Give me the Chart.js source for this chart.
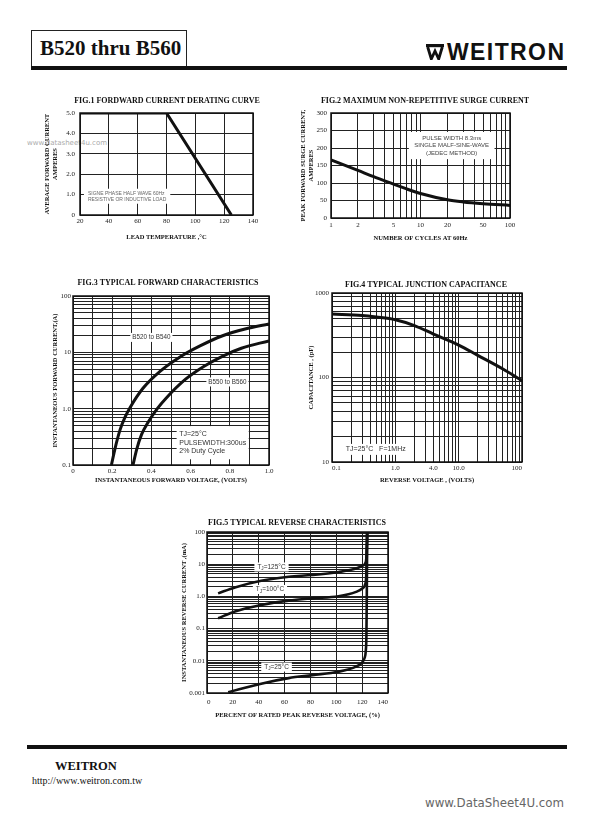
<!DOCTYPE html>
<html>
<head>
<meta charset="utf-8">
<script src="https://cdn.jsdelivr.net/npm/chart.js@4.4.1/dist/chart.umd.min.js"></script>
<style>
  html, body { margin: 0; padding: 0; background: #fff; }
  body { width: 592px; height: 840px; position: relative; overflow: hidden; }
  .abs { position: absolute; white-space: nowrap; }
  canvas { position: absolute; }
  #hbox { left: 31px; top: 30px; width: 156px; height: 37px; border: 1.3px solid #222; border-bottom: none; box-sizing: border-box; }
  #htext { left: 40px; top: 36px; font: bold 21px "Liberation Serif", serif; color: #111; line-height: 24px; }
  #hline { left: 31px; top: 66px; width: 536px; height: 4px; background: #111; }
  #logo { left: 426px; top: 44px; }
  #logotext { left: 447px; top: 38px; font: bold 23px "Liberation Sans", Arial, sans-serif; letter-spacing: 1.4px; color: #111; line-height: 28px; }
  #wm { left: 27px; top: 138px; font: 7px "DejaVu Sans", sans-serif; color: #aaa; line-height: 10px; }
  #fline { left: 27px; top: 745px; width: 540px; height: 4px; background: #111; }
  #fname { left: 55px; top: 758px; font: bold 12.5px "Liberation Serif", serif; color: #111; line-height: 16px; }
  #furl { left: 32px; top: 775px; font: 10px "Liberation Serif", serif; color: #111; line-height: 12px; }
  #fds { left: 425px; top: 796px; font: 11.8px "DejaVu Sans", sans-serif; color: #666; line-height: 14px; }
</style>
</head>
<body>
<div id="hbox" class="abs"></div>
<div id="htext" class="abs">B520 thru B560</div>
<div id="hline" class="abs"></div>
<svg id="logo" class="abs" width="18" height="16" viewBox="0 0 18 16">
  <rect x="0" y="0" width="18" height="3.2" fill="#111"/>
  <path d="M1.7 3 L5.3 15 L9 7 L12.7 15 L16.3 3" fill="none" stroke="#111" stroke-width="2.8"/>
</svg>
<div id="logotext" class="abs">WEITRON</div>
<div id="wm" class="abs">www.datasheet4u.com</div>
<div id="fline" class="abs"></div>
<div id="fname" class="abs">WEITRON</div>
<div id="furl" class="abs">http://www.weitron.com.tw</div>
<div id="fds" class="abs">www.DataSheet4U.com</div>

<script>
// ---------------- DATA ----------------
// Fig.1 forward current derating curve
const fig1TempC = [20, 80, 125];
const fig1CurrentA = [5.0, 5.0, 0.0];
const fig1XTickValues = [20, 40, 60, 80, 100, 120, 140];
const fig1YTickValues = [0, 1, 2, 3, 4, 5];
const fig1YTickLabels = ['0', '1.0', '2.0', '3.0', '4.0', '5.0'];

// Fig.2 max non-repetitive surge current
const fig2Cycles = [1, 2, 3, 5, 7, 10, 20, 30, 50, 100];
const fig2SurgeA = [166, 136, 118, 97, 83, 70, 52, 46, 41, 36];
const fig2XTickValues = [1, 2, 5, 10, 20, 50, 100];
const fig2YTickValues = [0, 50, 100, 150, 200, 250, 300];

// Fig.3 typical forward characteristics
const fig3VoltsB520 = [0.196, 0.215, 0.24, 0.265, 0.29, 0.357, 0.444, 0.546, 0.648, 0.76, 0.878, 1.0];
const fig3AmpsB520 = [0.1, 0.2, 0.42, 0.7, 1.03, 2.3, 4.6, 8.3, 13, 19.5, 26, 32];
const fig3VoltsB550 = [0.306, 0.325, 0.35, 0.38, 0.43, 0.476, 0.573, 0.667, 0.762, 0.859, 1.0];
const fig3AmpsB550 = [0.1, 0.19, 0.35, 0.55, 1.0, 1.55, 3.3, 5.6, 8.5, 11.8, 16];
const fig3XTickValues = [0, 0.2, 0.4, 0.6, 0.8, 1.0];
const fig3XTickLabels = ['0', '0.2', '0.4', '0.6', '0.8', '1.0'];
const fig3YTickValues = [0.1, 1, 10, 100];
const fig3YTickLabels = ['0.1', '1.0', '10', '100'];

// Fig.4 typical junction capacitance
const fig4ReverseV = [0.1, 0.3, 0.5, 1, 2, 4, 10, 20, 50, 100];
const fig4CapPF = [564, 542, 520, 483, 412, 327, 242, 183, 126, 92];
const fig4XTickValues = [0.1, 1, 4, 10, 100];
const fig4XTickLabels = ['0.1', '1.0', '4.0', '10.0', '100'];
const fig4YTickValues = [10, 100, 1000];
const fig4YTickLabels = ['10', '100', '1000'];

// Fig.5 typical reverse characteristics
const fig5Pct125 = [8.6, 21.6, 41.9, 63.2, 81.4, 101.7, 115.3, 120, 122.3, 123.2, 123.6, 123.9];
const fig5Cur125 = [1.24, 1.9, 3.05, 4.06, 4.6, 5.7, 7.3, 8.8, 10.5, 15, 40, 100];
const fig5Pct100 = [8.6, 21.6, 41.9, 63.2, 81.4, 101.7, 115.3, 120, 122.2, 123.1, 123.6, 123.9];
const fig5Cur100 = [0.21, 0.34, 0.54, 0.74, 0.87, 1.01, 1.38, 1.75, 2.3, 4, 20, 100];
const fig5Pct25 = [16.4, 41.9, 63.2, 81.4, 101.7, 115.3, 119.5, 121.8, 122.8, 123.3, 123.6, 123.9];
const fig5Cur25 = [0.00105, 0.00195, 0.0029, 0.0036, 0.0046, 0.0066, 0.0085, 0.012, 0.02, 0.06, 1, 100];
const fig5XTickValues = [0, 20, 40, 60, 80, 100, 120, 140];
const fig5YTickValues = [0.001, 0.01, 0.1, 1, 10, 100];
const fig5YTickLabels = ['0.001', '0.01', '0.1', '1.0', '10', '100'];

// ---------------- HELPERS ----------------
const SERIF = '"Liberation Serif", "Times New Roman", serif';
const SANS = '"Liberation Sans", Arial, sans-serif';
const INK = '#111';

function zip(xs, ys) { return xs.map((x, i) => ({ x: x, y: ys[i] })); }
function range(a, b, s) { const v = []; for (let t = a; t <= b + 1e-9; t += s) v.push(+t.toFixed(6)); return v; }
function logGrid(min, max) {
  const v = [];
  const e0 = Math.round(Math.log10(min)), e1 = Math.round(Math.log10(max));
  for (let e = e0; e < e1; e++) for (let k = 1; k < 10; k++) v.push(+(k * Math.pow(10, e)).toPrecision(6));
  v.push(max);
  return v;
}
function labeler(values, labels) {
  return function (v) {
    const i = values.findIndex(t => Math.abs(t - v) <= Math.abs(t) * 1e-6 + 1e-12);
    return i >= 0 ? labels[i] : '';
  };
}
function parseRich(str) {
  const out = []; const re = /\{([^}]*)\}/g; let last = 0, m;
  while ((m = re.exec(str))) {
    if (m.index > last) out.push({ t: str.slice(last, m.index), sub: false });
    out.push({ t: m[1], sub: true }); last = re.lastIndex;
  }
  if (last < str.length) out.push({ t: str.slice(last), sub: false });
  return out;
}

const framePlugin = {
  id: 'frame',
  afterDatasetsDraw(chart) {
    const a = chart.chartArea, ctx = chart.ctx;
    ctx.save(); ctx.strokeStyle = INK; ctx.lineWidth = 1.5;
    ctx.strokeRect(a.left, a.top, a.right - a.left, a.bottom - a.top);
    ctx.restore();
  }
};

function notesPlugin(items) {
  return {
    id: 'figNotes',
    beforeDatasetsDraw(chart) {
      const ctx = chart.ctx, xs = chart.scales.x, ys = chart.scales.y;
      items.forEach(it => {
        const fam = it.family || SANS, size = it.size;
        const fontN = size + 'px ' + fam, fontS = (size * 0.72) + 'px ' + fam;
        const segs = it.lines.map(parseRich);
        ctx.save();
        const widths = segs.map(s => s.reduce((w, sg) => { ctx.font = sg.sub ? fontS : fontN; return w + ctx.measureText(sg.t).width; }, 0));
        const w = Math.max.apply(null, widths), n = it.lines.length, lh = it.lh;
        const ax = xs.getPixelForValue(it.x), ay = ys.getPixelForValue(it.y);
        const left = it.align === 'left' ? ax : ax - w / 2;
        const top = ay - n * lh / 2;
        ctx.fillStyle = '#fff';
        ctx.fillRect(left - it.padX, top - it.padY, w + 2 * it.padX, n * lh + 2 * it.padY);
        ctx.fillStyle = it.color; ctx.textBaseline = 'middle'; ctx.textAlign = 'left';
        segs.forEach((s, i) => {
          let x = it.align === 'left' ? left : ax - widths[i] / 2;
          const y = top + lh * (i + 0.5);
          s.forEach(sg => {
            ctx.font = sg.sub ? fontS : fontN;
            ctx.fillText(sg.t, x, sg.sub ? y + size * 0.28 : y);
            x += ctx.measureText(sg.t).width;
          });
        });
        ctx.restore();
      });
    }
  };
}

const TITLE_FONT = { family: SERIF, size: 8, weight: 'bold', lineHeight: 1.2 };
const AXT_FONT = { family: SERIF, size: 6.5, weight: 'bold', lineHeight: 1.3 };
const TICK_FONT = { family: SERIF, size: 7, lineHeight: 1.2 };

function axisCfg(a, extra) {
  return {
    type: a.type, min: a.min, max: a.max,
    grid: { color: '#222', lineWidth: 1, drawTicks: false },
    border: { display: false },
    ticks: Object.assign({ color: '#222', font: TICK_FONT, autoSkip: false, maxRotation: 0, minRotation: 0,
      callback: labeler(a.labelValues, a.labels), align: a.align || 'center' }, extra.ticks),
    title: Object.assign({ display: true, text: a.title, color: INK, font: AXT_FONT }, extra.title),
    afterBuildTicks: s => { s.ticks = a.grid.map(v => ({ value: v })); },
    afterFit: extra.afterFit
  };
}

function makeChart(spec) {
  const g = spec.geom;
  const lhT = 8 * 1.2, lhA = 6.5 * 1.3, lhK = 7 * 1.2;
  const cl = Math.round(g.ytx - lhA / 2 - 2);
  const cw = Math.round(2 * (g.tx - cl));
  const wr = cw - (g.R - cl);
  const ct = Math.round(g.ty - lhT / 2 - 2);
  const ch = Math.round(g.xty + lhA / 2 + 2 - ct);
  const titlePadTop = g.ty - ct - lhT / 2;
  const titlePadBottom = (g.T - ct) - titlePadTop - lhT;
  const yTitlePadTop = g.ytx - cl - lhA / 2;
  const xAxisH = ct + ch - g.B;
  const xTitlePadBottom = ct + ch - g.xty - lhA / 2;
  const xTickPad = g.xtk - g.B - lhK / 2;
  const yTickPad = g.L - g.ytk;
  const yAxisW = g.L - cl;

  const cv = document.createElement('canvas');
  cv.width = cw; cv.height = ch;
  cv.style.left = cl + 'px'; cv.style.top = ct + 'px';
  cv.style.width = cw + 'px'; cv.style.height = ch + 'px';
  document.body.appendChild(cv);

  new Chart(cv, {
    type: 'line',
    data: {
      datasets: spec.datasets.map(d => ({
        data: d.data, borderColor: INK, borderWidth: d.width || 2.8, pointRadius: 0,
        fill: false, tension: d.tension === undefined ? 0.4 : d.tension,
        cubicInterpolationMode: d.tension === 0 ? 'default' : 'monotone'
      }))
    },
    options: {
      responsive: false, animation: false, devicePixelRatio: 1,
      layout: { padding: 0 },
      plugins: {
        legend: { display: false }, tooltip: { enabled: false },
        title: { display: true, text: spec.title, color: INK, font: TITLE_FONT,
          padding: { top: titlePadTop, bottom: titlePadBottom } }
      },
      scales: {
        x: axisCfg(spec.x, { ticks: { padding: xTickPad }, title: { padding: { top: 0, bottom: xTitlePadBottom } },
          afterFit: s => { s.height = xAxisH; } }),
        y: Object.assign(axisCfg(spec.y, { ticks: { padding: yTickPad }, title: { padding: { top: yTitlePadTop, bottom: 0 } },
          afterFit: s => { s.width = yAxisW; } }), { position: 'left' }),
        sp: { type: 'linear', position: 'right', display: true, grid: { display: false }, border: { display: false },
          ticks: { display: false }, title: { display: false }, afterFit: s => { s.width = wr; } }
      }
    },
    plugins: [framePlugin, notesPlugin(spec.notes || [])]
  });
}

Chart.defaults.font.family = SERIF;

// ---------------- FIGURES ----------------
makeChart({
  geom: { L: 80, R: 253, T: 113, B: 215, tx: 167, ty: 101, ytx: 47, xty: 237, xtk: 221, ytk: 75 },
  title: 'FIG.1 FORDWARD CURRENT DERATING CURVE',
  x: { type: 'linear', min: 20, max: 140, grid: range(20, 140, 20), labelValues: fig1XTickValues,
       labels: fig1XTickValues.map(String), title: 'LEAD TEMPERATURE ,°C' },
  y: { type: 'linear', min: 0, max: 5, grid: range(0, 5, 1), labelValues: fig1YTickValues,
       labels: fig1YTickLabels, title: ['AVERAGE FORWARD CURRENT', 'AMPERES'] },
  datasets: [{ data: zip(fig1TempC, fig1CurrentA), tension: 0, width: 3 }],
  notes: [{ lines: ['SIGNE PHASE HALF WAVE 60Hz', 'RESISTIVE OR INDUCTIVE LOAD'], x: 25.5, y: 0.92,
            align: 'left', size: 5, lh: 6, padX: 4, padY: 1.5, color: '#666' }]
});

makeChart({
  geom: { L: 331, R: 510, T: 113, B: 218, tx: 425, ty: 101, ytx: 303, xty: 238, xtk: 225, ytk: 327 },
  title: 'FIG.2 MAXIMUM NON-REPETITIVE SURGE CURRENT',
  x: { type: 'logarithmic', min: 1, max: 100, grid: logGrid(1, 100), labelValues: fig2XTickValues,
       labels: fig2XTickValues.map(String), title: 'NUMBER OF CYCLES AT 60Hz' },
  y: { type: 'linear', min: 0, max: 300, grid: range(0, 300, 50), labelValues: fig2YTickValues,
       labels: fig2YTickValues.map(String), title: ['PEAK FORWARD SURGE CURRENT,', 'AMPERES'] },
  datasets: [{ data: zip(fig2Cycles, fig2SurgeA), width: 3 }],
  notes: [{ lines: ['PULSE WIDTH 8.3ms', 'SINGLE MALF-SINE-WAVE', '(JEDEC METHOD)'], x: 22.3, y: 207,
            align: 'center', size: 6, lh: 7.4, padX: 5.5, padY: 2.5, color: '#444' }]
});

makeChart({
  geom: { L: 73, R: 269, T: 296, B: 465, tx: 168, ty: 283, ytx: 55, xty: 480, xtk: 471, ytk: 71 },
  title: 'FIG.3 TYPICAL FORWARD CHARACTERISTICS',
  x: { type: 'linear', min: 0, max: 1, grid: range(0, 1, 0.1), labelValues: fig3XTickValues,
       labels: fig3XTickLabels, title: 'INSTANTANEOUS FORWARD VOLTAGE, (VOLTS)' },
  y: { type: 'logarithmic', min: 0.1, max: 100, grid: logGrid(0.1, 100), labelValues: fig3YTickValues,
       labels: fig3YTickLabels, title: 'INSTANTANEOUS FORWARD CURRENT,(A)' },
  datasets: [{ data: zip(fig3VoltsB520, fig3AmpsB520), width: 3 }, { data: zip(fig3VoltsB550, fig3AmpsB550), width: 3 }],
  notes: [
    { lines: ['B520 to B540'], x: 0.40, y: 18.4, align: 'center', size: 6.3, lh: 8, padX: 2, padY: 0.5, color: '#333' },
    { lines: ['B550 to B560'], x: 0.788, y: 2.98, align: 'center', size: 6.3, lh: 8, padX: 2, padY: 0.5, color: '#333' },
    { lines: ['TJ=25°C', 'PULSEWIDTH:300us', '2% Duty Cycle'], x: 0.542, y: 0.249, align: 'left',
      size: 7, lh: 8.4, padX: 2.6, padY: 4, color: '#333' }
  ]
});

makeChart({
  geom: { L: 332, R: 522, T: 293, B: 462, tx: 426, ty: 285, ytx: 311, xty: 480, xtk: 468, ytk: 329 },
  title: 'FIG.4 TYPICAL JUNCTION CAPACITANCE',
  x: { type: 'logarithmic', min: 0.1, max: 100, grid: logGrid(0.1, 100), labelValues: fig4XTickValues,
       labels: fig4XTickLabels, align: 'inner', title: 'REVERSE VOLTAGE , (VOLTS)' },
  y: { type: 'logarithmic', min: 10, max: 1000, grid: logGrid(10, 1000), labelValues: fig4YTickValues,
       labels: fig4YTickLabels, title: 'CAPACITANCE , (pF)' },
  datasets: [{ data: zip(fig4ReverseV, fig4CapPF), width: 3 }],
  notes: [{ lines: ['TJ=25°C   F=1MHz'], x: 0.165, y: 14.1, align: 'left', size: 7, lh: 8, padX: 2.5, padY: 1.5, color: '#333' }]
});

makeChart({
  geom: { L: 207, R: 388, T: 532, B: 693, tx: 297, ty: 523, ytx: 184, xty: 715, xtk: 702, ytk: 205 },
  title: 'FIG.5 TYPICAL REVERSE CHARACTERISTICS',
  x: { type: 'linear', min: 0, max: 140, grid: range(0, 140, 20), labelValues: fig5XTickValues,
       labels: fig5XTickValues.map(String), align: 'inner', title: 'PERCENT OF RATED PEAK REVERSE VOLTAGE, (%)' },
  y: { type: 'logarithmic', min: 0.001, max: 100, grid: logGrid(0.001, 100), labelValues: fig5YTickValues,
       labels: fig5YTickLabels, title: 'INSTANTANEOUS REVERSE CURRENT ,(mA)' },
  datasets: [
    { data: zip(fig5Pct125, fig5Cur125), width: 2.6 },
    { data: zip(fig5Pct100, fig5Cur100), width: 2.6 },
    { data: zip(fig5Pct25, fig5Cur25), width: 2.6 }
  ],
  notes: [
    { lines: ['T{J}=125°C'], x: 49.9, y: 8.2, align: 'center', size: 6.5, lh: 8, padX: 3, padY: 0.5, color: '#333' },
    { lines: ['T{J}=100°C'], x: 48.7, y: 1.64, align: 'center', size: 6.5, lh: 8, padX: 3, padY: 0.5, color: '#333' },
    { lines: ['T{J}=25°C'], x: 53.8, y: 0.0064, align: 'center', size: 6.5, lh: 8, padX: 3, padY: 0.5, color: '#333' }
  ]
});
</script>
</body>
</html>
